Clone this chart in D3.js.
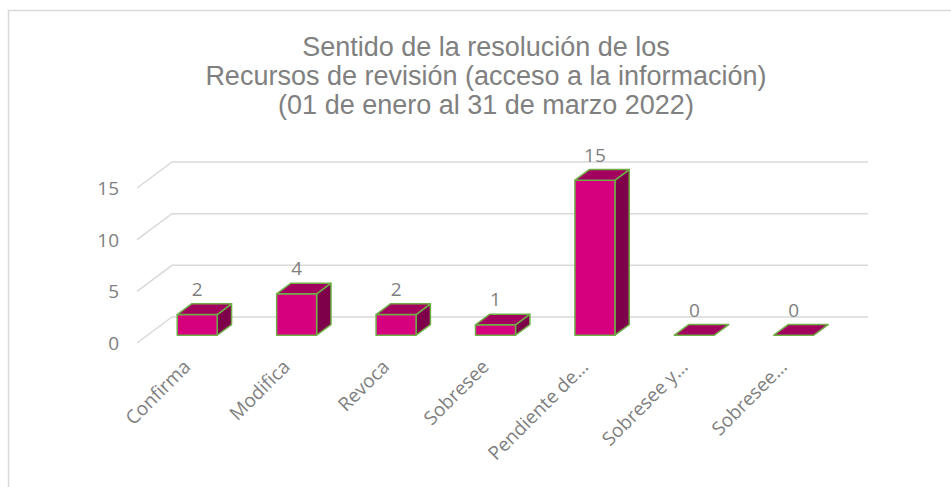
<!DOCTYPE html>
<html>
<head>
<meta charset="utf-8">
<script src="https://cdn.jsdelivr.net/npm/d3@7"></script>
<style>
  body { margin: 0; background: #fff; }
  svg { display: block; }
</style>
</head>
<body>
<div id="chart"></div>
<script>
// chart data
var categories = ["Confirma", "Modifica", "Revoca", "Sobresee", "Pendiente de…", "Sobresee y…", "Sobresee…"];
var values = [2, 4, 2, 1, 15, 0, 0];
var yTicks = [0, 5, 10, 15];
var titleLines = [
  "Sentido de la resolución de los",
  "Recursos de revisión (acceso a la información)",
  "(01 de enero al 31 de marzo 2022)"
];

var W = 951, H = 487;
var svg = d3.select("#chart").append("svg")
  .attr("width", W)
  .attr("height", H);

// outer frame (runs past the right/bottom edge)
svg.append("rect")
  .attr("x", 8.5).attr("y", 10.5)
  .attr("width", 1100).attr("height", 1100)
  .attr("fill", "none")
  .attr("stroke", "#d9d9d9")
  .attr("stroke-width", 1.5);

// title
svg.append("text")
  .attr("text-anchor", "middle")
  .attr("font-family", "Liberation Sans, Arial, sans-serif")
  .attr("font-size", 27)
  .attr("fill", "#808080")
  .selectAll("tspan")
  .data(titleLines)
  .enter().append("tspan")
  .attr("x", 486)
  .attr("y", (d, i) => 56 + i * 29)
  .text(d => d);

// front plane scales + depth offset for the 3d look
var x = d3.scaleBand()
  .domain(categories)
  .range([137, 833]);
var y = d3.scaleLinear()
  .domain([0, 15])
  .range([343, 188]);
var depthX = 35, depthY = -26;

function proj(px, v, d) {
  return [px + depthX * d, y(v) + depthY * d];
}
function pts(arr) { return arr.map(p => p.join(",")).join(" "); }

// gridlines: diagonal on the side wall + horizontal on the back wall
var grid = svg.append("g")
  .attr("stroke", "#d9d9d9")
  .attr("stroke-width", 1.5)
  .attr("fill", "none");
yTicks.forEach(function(t) {
  var x0 = x.range()[0], x1 = x.range()[1];
  grid.append("polyline")
    .attr("points", pts([proj(x0, t, 0), proj(x0, t, 1), proj(x1, t, 1)]));
});

// y tick labels
svg.append("g")
  .selectAll("text")
  .data(yTicks)
  .enter().append("text")
  .attr("x", 119)
  .attr("y", d => y(d))
  .attr("dy", "0.36em")
  .attr("text-anchor", "end")
  .attr("font-family", "Open Sans, sans-serif")
  .attr("font-size", 19)
  .attr("fill", "#7f7f7f")
  .text(d => d);

// bars
var barW = 40, d0 = 0.3, d1 = 0.71;
var frontCol = "#d6007f", topCol = "#a2005e", sideCol = "#7e004a", edgeCol = "#70ad47";

var bars = svg.append("g")
  .selectAll("g")
  .data(categories.map((c, i) => ({cat: c, value: values[i]})))
  .enter().append("g")
  .attr("stroke", edgeCol)
  .attr("stroke-width", 1.5)
  .attr("stroke-linejoin", "round");

bars.each(function(d) {
  var g = d3.select(this);
  var cx = x(d.cat) + x.bandwidth() / 2;
  var l = cx - barW / 2, r = cx + barW / 2;
  if (d.value > 0) {
    g.append("polygon").attr("fill", sideCol)
      .attr("points", pts([proj(r, 0, d0), proj(r, 0, d1), proj(r, d.value, d1), proj(r, d.value, d0)]));
    g.append("polygon").attr("fill", frontCol)
      .attr("points", pts([proj(l, 0, d0), proj(r, 0, d0), proj(r, d.value, d0), proj(l, d.value, d0)]));
  }
  g.append("polygon").attr("fill", topCol)
    .attr("points", pts([proj(l, d.value, d0), proj(r, d.value, d0), proj(r, d.value, d1), proj(l, d.value, d1)]));

  // value label
  var lp = proj(cx, d.value, d1);
  g.append("text")
    .attr("x", cx + depthX * d0)
    .attr("y", lp[1] - 8)
    .attr("text-anchor", "middle")
    .attr("stroke", "none")
    .attr("font-family", "Open Sans, sans-serif")
    .attr("font-size", 19)
    .attr("fill", "#7f7f7f")
    .text(d.value);
});

// category labels, rotated
svg.append("g")
  .selectAll("text")
  .data(categories)
  .enter().append("text")
  .attr("transform", d => "translate(" + (x(d) + x.bandwidth() / 2 + 5) + ",368) rotate(-45)")
  .attr("text-anchor", "end")
  .attr("font-family", "Open Sans, sans-serif")
  .attr("font-size", 19)
  .attr("fill", "#7f7f7f")
  .text(d => d);
</script>
</body>
</html>
